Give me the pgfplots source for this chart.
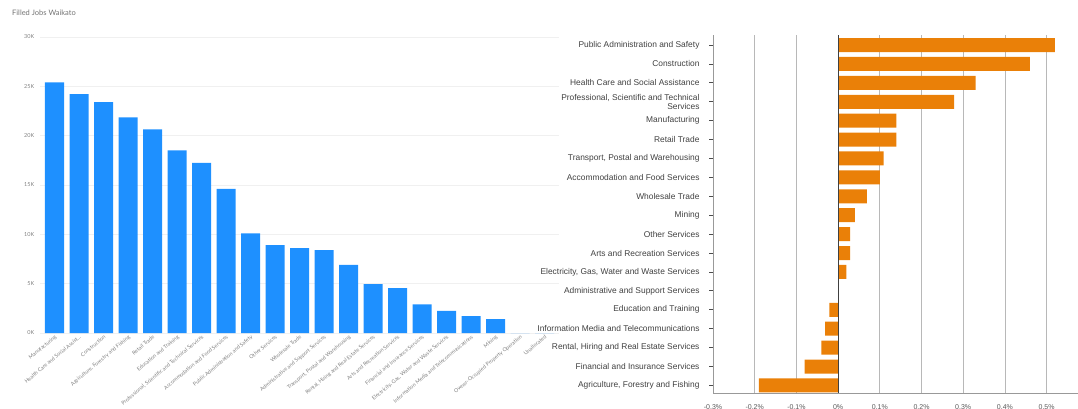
\documentclass[border=0pt]{standalone}
\usepackage{pgfplots}
\pgfplotsset{compat=1.18}
\usepackage{fontspec}
\setmainfont{Liberation Sans}
\newfontfamily\leftfont{Lato}
\definecolor{barblue}{RGB}{30,144,255}
\definecolor{barorange}{RGB}{234,128,8}

\pgfplotstableread{
idx jobs
0 25400
1 24200
2 23400
3 21850
4 20650
5 18500
6 17250
7 14600
8 10100
9 8900
10 8600
11 8400
12 6900
13 4950
14 4550
15 2900
16 2250
17 1720
18 1400
19 0
20 0
}\leftdata

\pgfplotstableread{
idx change
0 -0.19
1 -0.08
2 -0.04
3 -0.031
4 -0.021
5 0
6 0.02
7 0.029
8 0.029
9 0.04
10 0.069
11 0.10
12 0.109
13 0.14
14 0.14
15 0.278
16 0.33
17 0.46
18 0.52
}\rightdata

\begin{document}
\begin{tikzpicture}
\node[anchor=west, font=\leftfont\fontsize{7.5}{9}\selectfont, text=black!55, inner sep=0] at (12pt,-13pt) {Filled Jobs Waikato};

\begin{axis}[
 at={(39.8pt,-333pt)}, anchor=south west, scale only axis,
 width=519.4pt, height=296pt,
 xmin=-0.6, xmax=20.6, ymin=0, ymax=30000,
 scaled y ticks=false,
 ybar, bar width=19pt,
 axis line style={draw=none},
 ytick={0,5000,10000,15000,20000,25000,30000},
 yticklabels={0K,5K,10K,15K,20K,25K,30K},
 ymajorgrids, grid style={black!6},
 major tick length=0pt,
 yticklabel style={font=\leftfont\fontsize{5.5}{6}\selectfont, text=black!50, xshift=-2pt},
 xtick={0,...,20},
 xticklabels={Manufacturing,{Health Care and Social Assist\dots},Construction,{Agriculture, Forestry and Fishing},Retail Trade,Education and Training,{Professional, Scientific and Technical Services},Accommodation and Food Services,Public Administration and Safety,Other Services,Wholesale Trade,Administrative and Support Services,{Transport, Postal and Warehousing},{Rental, Hiring and Real Estate Services},Arts and Recreation Services,Financial and Insurance Services,{Electricity, Gas, Water and Waste Services},Information Media and Telecommunications,Mining,Owner-Occupied Property Operation,Unallocated},
 xticklabel style={font=\leftfont\fontsize{5.3}{6}\selectfont, text=black!50, rotate=40, anchor=north east, inner sep=1pt},
]
\addplot[fill=barblue, draw=none] table[x=idx, y=jobs] {\leftdata};
\end{axis}

\begin{scope}
\clip (537pt,0pt) rectangle (1078pt,-409pt);
\begin{axis}[
 at={(713pt,-393pt)}, anchor=south west, scale only axis,
 width=375.3pt, height=358pt,
 xmin=-0.3, xmax=0.6, ymin=-0.4, ymax=18.53,
 xbar, bar width=14pt,
 axis x line*=bottom, axis y line*=left,
 axis line style={black!40, -},
 xtick={-0.3,-0.2,-0.1,0,0.1,0.2,0.3,0.4,0.5,0.6},
 xticklabels={-0.3\%,-0.2\%,-0.1\%,0\%,0.1\%,0.2\%,0.3\%,0.4\%,0.5\%,0.6\%},
 xmajorgrids, grid style={black!28, line width=0.8pt},
 ytick={0,...,18},
 yticklabels={{Agriculture, Forestry and Fishing},Financial and Insurance Services,{Rental, Hiring and Real Estate Services},Information Media and Telecommunications,Education and Training,Administrative and Support Services,{Electricity, Gas, Water and Waste Services},Arts and Recreation Services,Other Services,Mining,Wholesale Trade,Accommodation and Food Services,{Transport, Postal and Warehousing},Retail Trade,Manufacturing,{Professional, Scientific and Technical\\Services},Health Care and Social Assistance,Construction,Public Administration and Safety},
 ytick style={black!70, line width=0.8pt},
 xtick style={draw=none},
 tick align=outside, major tick length=4pt,
 yticklabel style={font=\fontsize{8.4}{9.2}\selectfont, text=black!75, align=right, xshift=-6pt},
 xticklabel style={font=\fontsize{7}{8}\selectfont, text=black!65, yshift=-4pt},
]
\addplot[fill=barorange, draw=none] table[x=change, y=idx] {\rightdata};
\draw[black!75, line width=0.9pt] (axis cs:0,-0.4) -- (axis cs:0,18.53);
\end{axis}
\end{scope}

\pgfresetboundingbox
\useasboundingbox (0pt,0pt) rectangle (1078pt,-409pt);
\end{tikzpicture}
\end{document}
